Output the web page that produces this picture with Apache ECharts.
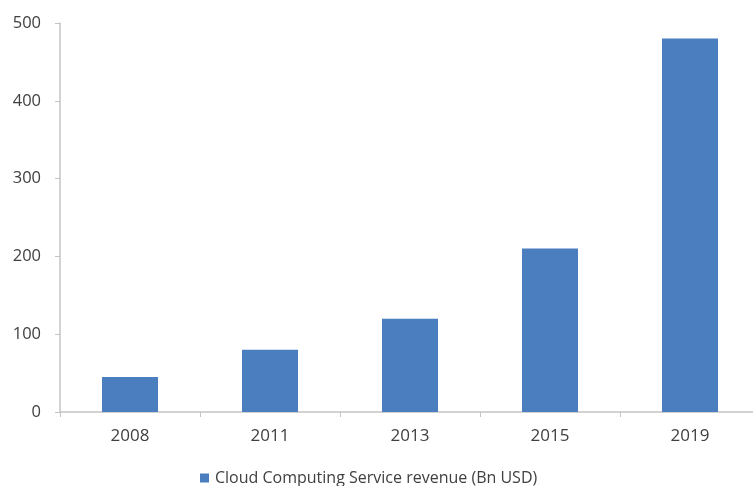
<!DOCTYPE html>
<html>
<head>
<meta charset="utf-8">
<script src="https://cdn.jsdelivr.net/npm/echarts@6/dist/echarts.min.js"></script>
<style>html,body{margin:0;padding:0;background:#fff}#c{width:753px;height:486px}</style>
</head>
<body>
<div id="c"></div>
<script>
const categories = ['2008', '2011', '2013', '2015', '2019'];
const revenue = [45, 80, 120, 210, 480];
const seriesName = 'Cloud Computing Service revenue (Bn USD)';

const chart = echarts.init(document.getElementById('c'));
const axisColor = '#c4c4c4';
chart.setOption({
  animation: false,
  grid: { left: 60, top: 23, width: 700, height: 389, outerBoundsMode: 'none', containLabel: false },
  legend: {
    data: [seriesName],
    top: 470,
    left: 200,
    padding: 0,
    icon: 'rect',
    itemWidth: 9,
    itemHeight: 9,
    itemGap: 4,
    textStyle: { color: '#404040', fontFamily: 'Open Sans', fontSize: 16, padding: [0, 0, 0, 1] }
  },
  xAxis: {
    type: 'category',
    data: categories,
    axisLine: { lineStyle: { color: axisColor, width: 1.5 } },
    axisTick: { show: true, length: 5, alignWithLabel: false, lineStyle: { color: axisColor } },
    axisLabel: { margin: 16, color: '#404040', fontFamily: 'Open Sans', fontSize: 17 }
  },
  yAxis: {
    type: 'value',
    min: 0, max: 500, interval: 100,
    axisLine: { show: true, lineStyle: { color: axisColor, width: 1.5 } },
    axisTick: { show: true, length: 5, lineStyle: { color: axisColor } },
    splitLine: { show: false },
    axisLabel: { margin: 19, color: '#404040', fontFamily: 'Open Sans', fontSize: 16.5 }
  },
  series: [{
    name: seriesName,
    type: 'bar',
    data: revenue,
    barWidth: 56,
    itemStyle: { color: '#4a7ebf' }
  }]
});
</script>
</body>
</html>
